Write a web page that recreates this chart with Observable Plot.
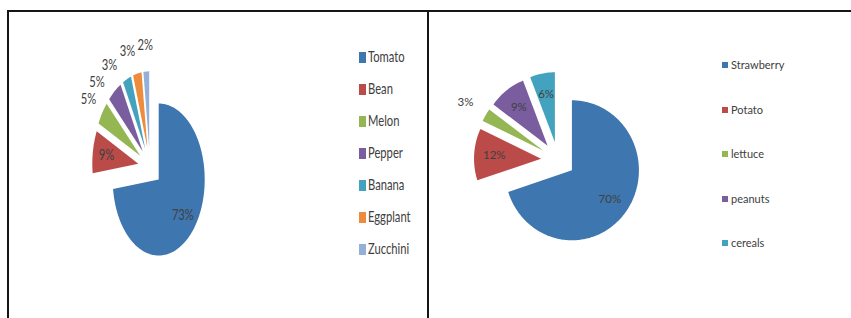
<!DOCTYPE html>
<html><head><meta charset="utf-8">
<script src="https://cdn.jsdelivr.net/npm/d3@7"></script>
<script src="https://cdn.jsdelivr.net/npm/@observablehq/plot@0.6"></script>
<style>
html,body{margin:0;padding:0;background:#fff;}
#page{position:relative;width:851px;height:318px;overflow:hidden;font-family:Lato,"Noto Sans",sans-serif;}
.panel{position:absolute;top:0;}
.rule{position:absolute;background:#151515;}
.item{position:absolute;white-space:nowrap;color:#404040;}
.sw{position:absolute;}
.lt{position:absolute;transform-origin:0 50%;line-height:1;}
</style></head><body>
<div id="page"></div>
<script>
// ---- data ----
const leftCategories = ["Tomato","Bean","Melon","Pepper","Banana","Eggplant","Zucchini"];
const leftValues = [73,9,5,5,3,3,2];
const leftColors = ["#3e76b0","#bb4b48","#94b653","#7a5d9f","#43a2bd","#ee8c3e","#93b1d8"];

const rightCategories = ["Strawberry","Potato","lettuce","peanuts","cereals"];
const rightValues = [70,12,3,9,6];
const rightColors = ["#3e76b0","#bb4b48","#94b653","#7a5d9f","#43a2bd"];

const EXPLODE = 0.255;

// ---- geometry helpers (unit circle, angles clockwise from top) ----
function slices(cats, vals, explode) {
  const total = d3.sum(vals);
  let a = 0;
  return cats.map((c, i) => {
    const a0 = a, a1 = a + vals[i] / total * 2 * Math.PI; a = a1;
    const m = (a0 + a1) / 2;
    return {cat: c, value: vals[i], a0, a1, m, ox: explode * Math.sin(m), oy: explode * Math.cos(m)};
  });
}
function slicePoints(sl) {
  const pts = [];
  for (const s of sl) {
    pts.push({cat: s.cat, x: s.ox, y: s.oy});
    const n = Math.max(2, Math.ceil((s.a1 - s.a0) / 0.02));
    for (let k = 0; k <= n; k++) {
      const t = s.a0 + (s.a1 - s.a0) * k / n;
      pts.push({cat: s.cat, x: s.ox + Math.sin(t), y: s.oy + Math.cos(t)});
    }
  }
  return pts;
}
// labels: inside for big slices, outside (with simple collision avoidance) for small ones
function labelPoints(sl, o) {
  const rIn = 0.7, rOut = 1.35, threshold = 6, gap = 2;
  const out = new Array(sl.length);
  const placed = [];
  for (let i = sl.length - 1; i >= 0; i--) {
    const s = sl[i];
    const text = s.value + "%";
    if (s.value >= threshold) {
      out[i] = {cat: s.cat, text, x: s.ox + rIn * Math.sin(s.m), y: s.oy + rIn * Math.cos(s.m)};
      continue;
    }
    const R = EXPLODE + rOut;
    const w = text.length * o.fontSize * 0.7 * o.squeeze, h = o.fontSize + 1;
    let th = s.m, px, py;
    const clash = () => placed.some(p => Math.abs(px - p.px) < (w + p.w) / 2 + gap && Math.abs(py - p.py) < (h + p.h) / 2);
    for (let k = 0; k < 400; k++) {
      px = R * Math.sin(th) * o.rx; py = -R * Math.cos(th) * o.ry;
      if (!clash()) break;
      th -= 0.005;
    }
    placed.push({px, py, w, h});
    out[i] = {cat: s.cat, text, x: px / o.rx, y: -py / o.ry};
  }
  return out;
}

function pieChart(o) {
  const sl = slices(o.cats, o.vals, EXPLODE);
  const svg = Plot.plot({
    width: o.width, height: o.height, margin: 0,
    x: {domain: [-1, 1], range: [o.cx - o.rx, o.cx + o.rx], axis: null},
    y: {domain: [-1, 1], range: [o.cy + o.ry, o.cy - o.ry], axis: null},
    color: {domain: o.cats, range: o.colors},
    style: {background: "transparent", overflow: "visible", fontFamily: "Lato, 'Noto Sans', sans-serif"},
    marks: [
      Plot.line(slicePoints(sl), {x: "x", y: "y", z: "cat", fill: "cat", stroke: "none", curve: "linear-closed"}),
      Plot.text(labelPoints(sl, o), {x: "x", y: "y", text: "text", fill: "#404040", fontSize: o.fontSize})
    ]
  });
  if (o.squeeze !== 1) {
    svg.querySelectorAll("text").forEach(t => {
      const tr = t.getAttribute("transform");
      if (tr) t.setAttribute("transform", tr + ` scale(${o.squeeze},1)`);
    });
  }
  return svg;
}

function legend(parent, cats, colors, o) {
  cats.forEach((c, i) => {
    const cy = o.top + i * o.step;
    const sw = document.createElement("div");
    sw.className = "sw";
    Object.assign(sw.style, {left: o.swLeft + "px", top: (cy - o.swH / 2) + "px", width: o.swW + "px", height: o.swH + "px", background: colors[i]});
    parent.appendChild(sw);
    const t = document.createElement("div");
    t.className = "lt item";
    t.textContent = c;
    Object.assign(t.style, {left: o.textLeft + "px", top: (cy - o.fontSize * 0.55) + "px", fontSize: o.fontSize + "px", transform: `scaleX(${o.squeeze})`});
    parent.appendChild(t);
  });
}

const page = document.getElementById("page");

const leftPanel = document.createElement("div");
leftPanel.className = "panel"; leftPanel.style.left = "0px";
leftPanel.appendChild(pieChart({width: 430, height: 318, cx: 149.4, cy: 166.2, rx: 46, ry: 76,
  cats: leftCategories, vals: leftValues, colors: leftColors, fontSize: 16, squeeze: 0.7}));
page.appendChild(leftPanel);

const rightPanel = document.createElement("div");
rightPanel.className = "panel"; rightPanel.style.left = "430px";
rightPanel.appendChild(pieChart({width: 421, height: 318, cx: 127.6, cy: 159.3, rx: 67, ry: 70,
  cats: rightCategories, vals: rightValues, colors: rightColors, fontSize: 11.5, squeeze: 1}));
page.appendChild(rightPanel);

legend(page, leftCategories, leftColors, {top: 57, step: 32, swLeft: 359, swW: 7, swH: 11, textLeft: 368, fontSize: 16, squeeze: 0.7});
legend(page, rightCategories, rightColors, {top: 65.3, step: 44.5, swLeft: 722, swW: 6, swH: 6, textLeft: 731, fontSize: 11, squeeze: 1});

// frame lines
[[7, 10, 844, 2], [7, 10, 2, 308], [427, 10, 2, 308]].forEach(([l, t, w, h]) => {
  const d = document.createElement("div");
  d.className = "rule";
  Object.assign(d.style, {left: l + "px", top: t + "px", width: w + "px", height: h + "px"});
  page.appendChild(d);
});
</script>
</body></html>
